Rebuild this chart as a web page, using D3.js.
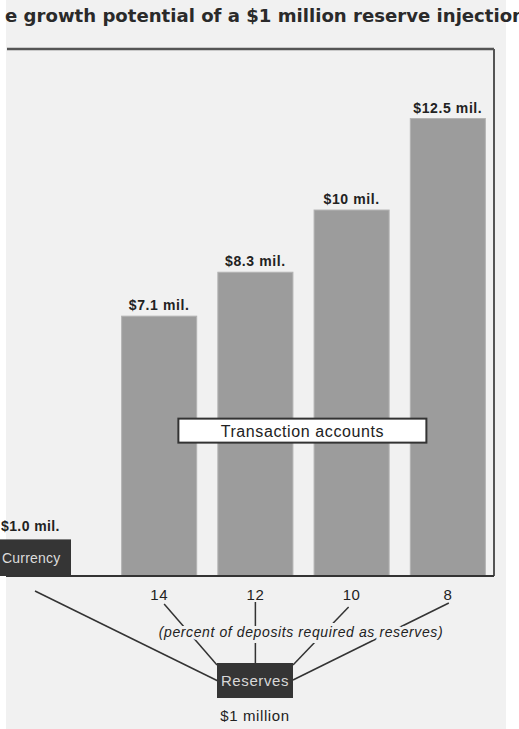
<!DOCTYPE html>
<html>
<head>
<meta charset="utf-8">
<script src="https://cdn.jsdelivr.net/npm/d3@7"></script>
<style>
  body { margin: 0; background: #fff; }
  svg { display: block; }
</style>
</head>
<body>
<div id="chart"></div>
<script>
// reserve requirement (percent) and resulting transaction accounts ($ mil.)
const ratios = ["14", "12", "10", "8"];
const deposits = [7.1, 8.3, 10, 12.5];
const depositLabels = ["$7.1 mil.", "$8.3 mil.", "$10 mil.", "$12.5 mil."];
const currency = [1.0];
const currencyLabels = ["$1.0 mil."];

const svg_width = 519, svg_height = 729;
const margin = { left: 7, right: 25, top: 49, bottom: 153 };
const baseY = svg_height - margin.bottom;

const svg = d3.select("#chart").append("svg")
    .attr("width", svg_width)
    .attr("height", svg_height)
    .style("font-family", "'Liberation Sans', Arial, sans-serif");

// page background
svg.append("rect").attr("x", 6).attr("y", 0)
    .attr("width", 500).attr("height", svg_height).attr("fill", "#f1f1f1");

const yScale = d3.scaleLinear().domain([0, 14.4]).range([baseY, margin.top]);
const xScale = d3.scaleBand().domain(ratios)
    .range([112, 495]).paddingInner(0.22).paddingOuter(0.1);
const xCur = d3.scaleBand().domain(["Currency"]).range([-9, 71]);

// title (cropped on the left in the original)
svg.append("text")
    .attr("x", 5).attr("y", 22)
    .attr("font-family", "'DejaVu Sans', sans-serif")
    .attr("font-weight", "bold")
    .attr("font-size", 17)
    .attr("textLength", 520).attr("lengthAdjust", "spacingAndGlyphs")
    .attr("fill", "#2a2a2a")
    .text("e growth potential of a $1 million reserve injection");

// frame
const frame = svg.append("g").attr("stroke", "#555").attr("fill", "none");
frame.append("line").attr("x1", 7).attr("x2", svg_width - margin.right)
    .attr("y1", margin.top).attr("y2", margin.top).attr("stroke-width", 2.5);
frame.append("line").attr("x1", svg_width - margin.right).attr("x2", svg_width - margin.right)
    .attr("y1", margin.top).attr("y2", baseY).attr("stroke-width", 2);

// transaction account bars
svg.selectAll(".bar").data(deposits).join("rect")
    .attr("class", "bar")
    .attr("x", (d, i) => xScale(ratios[i]))
    .attr("y", d => yScale(d))
    .attr("width", xScale.bandwidth())
    .attr("height", d => baseY - yScale(d))
    .attr("fill", "#9c9c9c")
    .attr("stroke", "#b3b3b3");

svg.selectAll(".val").data(deposits).join("text")
    .attr("class", "val")
    .attr("x", (d, i) => xScale(ratios[i]) + xScale.bandwidth() / 2)
    .attr("y", d => yScale(d) - 6)
    .attr("text-anchor", "middle")
    .attr("font-size", 14).attr("font-weight", "bold")
    .attr("letter-spacing", 0.6)
    .attr("fill", "#222")
    .text((d, i) => depositLabels[i]);

// currency bar (runs off the left edge)
svg.selectAll(".cur").data(currency).join("rect")
    .attr("class", "cur")
    .attr("x", xCur("Currency"))
    .attr("y", d => yScale(d))
    .attr("width", xCur.bandwidth())
    .attr("height", d => baseY - yScale(d))
    .attr("fill", "#353535");
svg.append("text")
    .attr("x", 2)
    .attr("y", yScale(currency[0] / 2) + 5)
    .attr("font-size", 14).attr("letter-spacing", 0.2).attr("fill", "#dcdcdc")
    .text("Currency");
svg.append("text")
    .attr("x", 1)
    .attr("y", yScale(currency[0]) - 8)
    .attr("font-size", 14).attr("font-weight", "bold").attr("letter-spacing", 0.4).attr("fill", "#222")
    .text(currencyLabels[0]);

// baseline
svg.append("line").attr("x1", 6).attr("x2", svg_width - margin.right)
    .attr("y1", baseY).attr("y2", baseY)
    .attr("stroke", "#333").attr("stroke-width", 2);

// Transaction accounts label
const tx = xScale("12") + xScale.bandwidth() / 2 + 47;
svg.append("rect")
    .attr("x", tx - 124).attr("y", yScale(4.3))
    .attr("width", 248).attr("height", 24)
    .attr("fill", "#fff").attr("stroke", "#333").attr("stroke-width", 2);
svg.append("text")
    .attr("x", tx).attr("y", yScale(4.3) + 18)
    .attr("text-anchor", "middle").attr("font-size", 16).attr("letter-spacing", 0.6).attr("fill", "#222")
    .text("Transaction accounts");

// x axis labels
const xAxis = d3.axisBottom(xScale).tickSize(0).tickPadding(13);
const axisG = svg.append("g")
    .attr("transform", "translate(0," + baseY + ")")
    .call(xAxis);
axisG.select(".domain").remove();
axisG.selectAll("text")
    .attr("font-size", 15).attr("letter-spacing", 0.5).attr("fill", "#222")
    .attr("font-family", "'Liberation Sans', Arial, sans-serif");

// Reserves box and connectors
const box = { x: 217, y: 663, w: 76, h: 35 };
const cx = box.x + box.w / 2;
const links = [
    { from: [35, 591], to: [box.x + 1, box.y + 18] }
].concat(ratios.map((r, i) => {
    const px = xScale(r) + xScale.bandwidth() / 2;
    const targets = [[box.x, box.y + 2], [px, box.y], [box.x + box.w, box.y + 2], [box.x + box.w, box.y + 17]];
    const starts = [[px + 5, 604], [px, 602], [px - 3, 607], [px + 1, 603]];
    return { from: starts[i], to: targets[i] };
}));
svg.selectAll(".link").data(links).join("line")
    .attr("class", "link")
    .attr("x1", d => d.from[0]).attr("y1", d => d.from[1])
    .attr("x2", d => d.to[0]).attr("y2", d => d.to[1])
    .attr("stroke", "#333").attr("stroke-width", 1.5);

svg.append("text")
    .attr("x", 301).attr("y", 637)
    .attr("text-anchor", "middle")
    .attr("font-size", 14).attr("font-style", "italic").attr("letter-spacing", 0.6).attr("fill", "#222")
    .attr("stroke", "#f1f1f1").attr("stroke-width", 6).attr("paint-order", "stroke")
    .text("(percent of deposits required as reserves)");

svg.append("rect")
    .attr("x", box.x).attr("y", box.y).attr("width", box.w).attr("height", box.h)
    .attr("fill", "#353535");
svg.append("text")
    .attr("x", cx).attr("y", box.y + 23)
    .attr("text-anchor", "middle").attr("font-size", 15).attr("letter-spacing", 0.6).attr("fill", "#d8d8d8")
    .text("Reserves");
svg.append("text")
    .attr("x", cx).attr("y", 721)
    .attr("text-anchor", "middle").attr("font-size", 15).attr("letter-spacing", 0.6).attr("fill", "#222")
    .text("$1 million");
</script>
</body>
</html>
